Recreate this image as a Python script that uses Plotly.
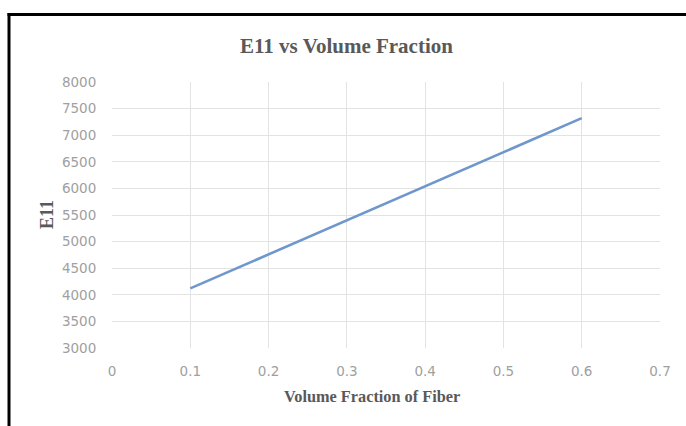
import plotly.graph_objects as go

vf = [0.1, 0.2, 0.3, 0.4, 0.5, 0.6]
e11 = [4120, 4760, 5400, 6040, 6680, 7320]

x_ticks = [0, 0.1, 0.2, 0.3, 0.4, 0.5, 0.6, 0.7]
y_ticks = [3000, 3500, 4000, 4500, 5000, 5500, 6000, 6500, 7000, 7500, 8000]

W, H = 686, 426
L, R, T, B = 112, 26, 82, 78
pw, ph = W - L - R, H - T - B

def px2x(px):
    return (px - L) / pw

def py2y(py):
    return (H - B - py) / ph

fig = go.Figure()
fig.add_trace(go.Scatter(x=vf, y=e11, mode="lines",
                         line=dict(color="#6f97cc", width=2.6), showlegend=False))

tick_font = dict(family="DejaVu Sans, Liberation Sans, sans-serif", size=13.5, color="#a0a0a0")
fig.update_xaxes(range=[0, 0.7], tickvals=x_ticks, ticktext=[str(v) for v in x_ticks],
                 showgrid=True, gridcolor="#e3e3e3", gridwidth=1, zeroline=False,
                 showline=False, tickfont=tick_font, ticks="outside", ticklen=11,
                 tickcolor="rgba(0,0,0,0)")
fig.update_yaxes(range=[3000, 8000], tickvals=y_ticks, ticktext=[str(v) for v in y_ticks],
                 showgrid=True, gridcolor="#e3e3e3", gridwidth=1, zeroline=False,
                 showline=False, tickfont=tick_font, ticks="outside", ticklen=12,
                 tickcolor="rgba(0,0,0,0)")

title_font = dict(family="Liberation Serif, Times New Roman, serif", size=21, color="#595959")
axis_font = dict(family="Liberation Serif, Times New Roman, serif", size=16.3, color="#595959")
ylab_font = dict(family="Liberation Serif, Times New Roman, serif", size=18, color="#595959")

fig.update_layout(
    width=W, height=H,
    margin=dict(l=L, r=R, t=T, b=B, pad=0),
    paper_bgcolor="white", plot_bgcolor="white",
    annotations=[
        dict(text="<b>E11 vs Volume Fraction</b>", xref="paper", yref="paper",
             x=px2x(346), y=py2y(46), showarrow=False, font=title_font,
             xanchor="center", yanchor="middle"),
        dict(text="<b>Volume Fraction of Fiber</b>", xref="paper", yref="paper",
             x=px2x(372), y=py2y(396), showarrow=False, font=axis_font,
             xanchor="center", yanchor="middle"),
        dict(text="<b>E11</b>", xref="paper", yref="paper",
             x=px2x(47), y=py2y(215), showarrow=False, font=ylab_font,
             textangle=-90, xanchor="center", yanchor="middle"),
    ],
    shapes=[
        dict(type="line", xref="paper", yref="paper",
             x0=px2x(9), x1=px2x(9), y0=py2y(13), y1=py2y(430),
             line=dict(color="black", width=3)),
        dict(type="line", xref="paper", yref="paper",
             x0=px2x(7.5), x1=px2x(690), y0=py2y(14.5), y1=py2y(14.5),
             line=dict(color="black", width=3)),
    ],
)

fig.write_html("out.html")
